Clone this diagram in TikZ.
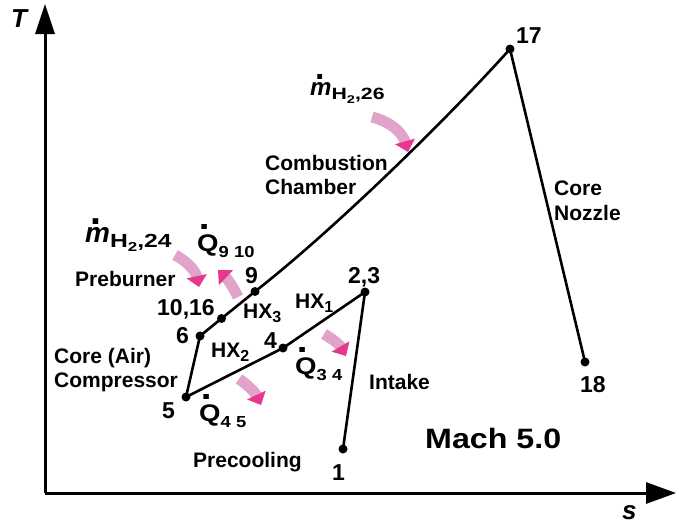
\documentclass[tikz,border=0pt]{standalone}
\usepackage{fontspec}
\setmainfont{Liberation Sans}
\usetikzlibrary{arrows.meta}
\definecolor{pinkA}{HTML}{E2A3CB}
\definecolor{pinkB}{HTML}{E8388E}
% dot accent over a letter: #1 horizontal offset, #2 extra raise, #3 letter
\newcommand\dotover[3]{\leavevmode\setbox0\hbox{#3}\rlap{\raisebox{\dimexpr\ht0+#2\relax}{\makebox[\wd0][l]{\hspace*{#1}\scalebox{1.4}{.}}}}\box0}
\newcommand\mflow[1]{{\fontsize{28}{28}\selectfont\dotover{0.2em}{0.1em}{\itshape m}}\scalebox{1.3}[1]{\fontsize{19}{19}\selectfont\raisebox{-0.27em}{H\raisebox{-0.25em}{\fontsize{13}{13}\selectfont 2},#1}}}
\newcommand\qflow[2]{\scalebox{1.15}[1]{{\fontsize{24}{24}\selectfont\dotover{0.06em}{0.2em}{Q}}{\fontsize{16}{16}\selectfont\raisebox{-0.38em}{#1\hspace{0.28em}#2}}}}
\newcommand\hx[1]{HX{\fontsize{16}{16}\selectfont\raisebox{-0.3em}{#1}}}
\begin{document}
\begin{tikzpicture}[x=1pt,y=-1pt,
  lab/.style={font=\fontsize{21}{25}\selectfont\bfseries, inner sep=0pt, anchor=base west},
  num/.style={font=\fontsize{23}{27}\selectfont\bfseries, inner sep=0pt, anchor=base west},
  pt/.style={circle, fill=black, inner sep=0pt, minimum size=9pt},
  cyc/.style={line width=2.6pt, line join=round},
  axis/.style={line width=3pt},
  heat/.style={line width=11pt, draw=pinkA, -{Triangle[length=11pt,width=20pt,color=pinkB]}}]
\useasboundingbox (0,0) rectangle (679,523);

% axes
\coordinate (O) at (45,493);
\coordinate (ytop) at (45,4);
\coordinate (xend) at (676,493);
\draw[axis, -{Triangle[length=30pt,width=19pt]}] (O) -- (ytop);
\draw[axis, -{Triangle[length=30pt,width=21pt]}] (O) -- (xend);
\node[font=\fontsize{26}{26}\selectfont\bfseries\itshape, inner sep=0pt, anchor=base west] (Tl) at (11,27) {T};
\node[font=\fontsize{26}{26}\selectfont\bfseries\itshape, inner sep=0pt, anchor=base west] (sl) at (622,519) {s};

% state points
\node[pt] (p1) at (343,449) {};
\node[pt] (p23) at (365,292) {};
\node[pt] (p4) at (283,348) {};
\node[pt] (p5) at (186,397) {};
\node[pt] (p6) at (200,336) {};
\node[pt] (p1016) at (221.5,318.5) {};
\node[pt] (p9) at (255,291.5) {};
\node[pt] (p17) at (510,49) {};
\node[pt] (p18) at (585,362) {};

% cycle
\draw[cyc] (p1.center) -- (p23.center) -- (p4.center) -- (p5.center) -- (p6.center)
  -- (p1016.center) -- (p9.center) .. controls (335,229) and (450,116) .. (p17.center)
  -- (p18.center);

% point labels
\node[num] (l1) at (332,480) {1};
\node[num] (l23) at (348,283) {2,3};
\node[num] (l4) at (264,348) {4};
\node[num] (l5) at (162,418) {5};
\node[num] (l6) at (176,343) {6};
\node[num] (l1016) at (157,315) {10,16};
\node[num] (l9) at (245,283) {9};
\node[num] (l17) at (516,43) {17};
\node[num] (l18) at (580,392) {18};

% process labels
\node[lab] (comb1) at (265,170) {Combustion};
\node[lab] (comb2) at (265,194) {Chamber};
\node[lab] (noz1) at (554,195) {Core};
\node[lab] (noz2) at (554,220) {Nozzle};
\node[lab] (preb) at (75,286) {Preburner};
\node[lab] (comp1) at (54,363) {Core (Air)};
\node[lab] (comp2) at (54,387) {Compressor};
\node[lab] (prec) at (193,467) {Precooling};
\node[lab] (intk) at (369,389) {Intake};
\node[lab] (hx1) at (295,308) {\hx{1}};
\node[lab] (hx2) at (211,357) {\hx{2}};
\node[lab] (hx3) at (243,318) {\hx{3}};
\node[font=\fontsize{28}{28}\selectfont\bfseries, inner sep=0pt, anchor=base west] (mach) at (425,448) {\scalebox{1.15}[1]{Mach 5.0}};

% flow / heat labels
\node[lab] (m26) at (310,95) {\scalebox{0.86}{\mflow{26}}};
\node[lab] (m24) at (85,242) {\mflow{24}};
\node[lab] (q910) at (197,251) {\qflow{9}{10}};
\node[lab] (q34) at (295,374) {\qflow{3}{4}};
\node[lab] (q45) at (199,421) {\qflow{4}{5}};

% heat / fuel arrows
\coordinate (a26s) at (372,117); \coordinate (a26e) at (408,152);
\coordinate (a24s) at (175,255); \coordinate (a24e) at (199,287);
\coordinate (a910s) at (238,297); \coordinate (a910e) at (218,270);
\coordinate (a34s) at (324,334); \coordinate (a34e) at (346,356);
\coordinate (a45s) at (239,379); \coordinate (a45e) at (261,405);
\draw[heat] (a26s) to[bend left=30] (a26e);
\draw[heat] (a24s) to[bend left=25] (a24e);
\draw[heat] (a910s) to[bend right=10] (a910e);
\draw[heat] (a34s) to[bend left=15] (a34e);
\draw[heat] (a45s) to[bend left=15] (a45e);
\end{tikzpicture}
\end{document}
